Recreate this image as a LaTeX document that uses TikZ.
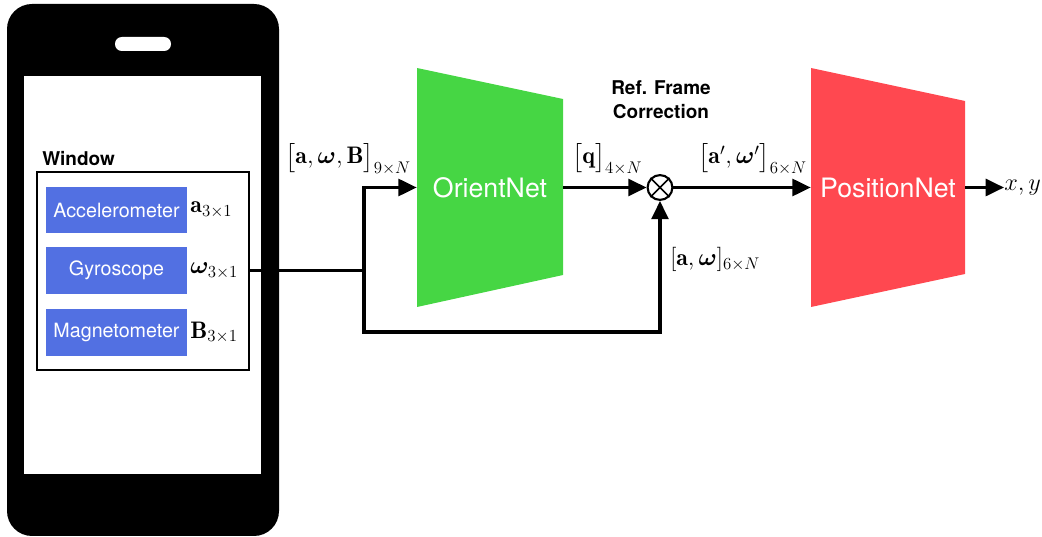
\documentclass[tikz,border=0pt]{standalone}
\usepackage{amsmath}
\usepackage{bm}
\usepackage{fontspec}
\setsansfont{TeX Gyre Heros}
\usetikzlibrary{arrows.meta}
\definecolor{sensorblue}{RGB}{82,112,226}
\definecolor{orientgreen}{RGB}{70,214,68}
\definecolor{positionred}{RGB}{255,72,80}
\tikzset{
  sensor/.style={fill=sensorblue, text=white, font=\sffamily\fontsize{14}{16}\selectfont,
    minimum width=3.525cm, minimum height=1.15cm, inner sep=0},
  dimlabel/.style={font=\fontsize{17}{20}\selectfont, inner sep=0},
  title/.style={font=\sffamily\bfseries\fontsize{13.5}{17}\selectfont, inner sep=0},
  netname/.style={text=white, font=\sffamily\fontsize{19}{22}\selectfont, minimum height=5.975cm, inner sep=0},
  wire/.style={line width=2.2pt},
  flow/.style={wire, -{Triangle[length=13pt,width=12pt]}},
}
\begin{document}
\begin{tikzpicture}[x=0.025cm, y=-0.025cm]
\useasboundingbox (0,0) rectangle (1042,537);
% phone
\fill[black, rounded corners=0.625cm] (7,4) rectangle (279,536);
\fill[white] (24,76) rectangle (261,474);
\fill[white, rounded corners=0.17cm] (115,37) rectangle (171,51);
% window with the sensors
\node[draw, line width=2pt, minimum width=5.3cm, minimum height=4.95cm, inner sep=0] (win) at (143,271) {};
\node[title, anchor=base west] (winlabel) at (42,166) {Window};
\node[sensor] (acc) at (116.5,210) {Accelerometer};
\node[sensor] (gyro) at (116.5,270.5) {Gyroscope};
\node[sensor] (mag) at (116.5,332.5) {Magnetometer};
\node[dimlabel, anchor=west, inner sep=2pt] (acclabel) at (acc.east) {$\mathbf{a}_{3\times1}$};
\node[dimlabel, anchor=west, inner sep=2pt] (gyrolabel) at (gyro.east) {$\bm{\omega}_{3\times1}$};
\node[dimlabel, anchor=west, inner sep=2pt] (maglabel) at (mag.east) {$\mathbf{B}_{3\times1}$};
% networks
\fill[orientgreen] (417,68) -- (563,99) -- (563,275) -- (417,307) -- cycle;
\fill[positionred] (811,68) -- (965,101) -- (965,274) -- (811,307) -- cycle;
\node[netname, minimum width=3.65cm] (orient) at (490,187.5) {OrientNet};
\node[netname, minimum width=3.85cm] (position) at (888,187.5) {PositionNet};
\node[circle, draw, line width=1.5pt, minimum size=0.62cm, inner sep=0] (mult) at (660,187.5) {};
\draw[line width=1.2pt] (mult.north west) -- (mult.south east) (mult.north east) -- (mult.south west);
\node[title, align=center] (refframe) at (661,100) {Ref. Frame\\Correction};
\node[dimlabel, anchor=west] (xy) at (1004,187.5) {$x, y$};
% connectors
\coordinate (split) at (364,270.5);
\coordinate (loop) at (364,332);
\draw[wire] (win.east |- split) -- (split);
\draw[flow] (split) |- (orient.west);
\draw[flow] (split) -- (loop) -| (mult.south);
\draw[flow] (orient.east) -- (mult.west);
\draw[flow] (mult.east) -- (position.west);
\draw[flow] (position.east) -- (xy.west);
% sizes
\node[dimlabel, anchor=base west] (inlabel) at (285,164) {$\big[\mathbf{a}, \bm{\omega}, \mathbf{B}\big]_{9\times N}$};
\node[dimlabel, anchor=base west] (qlabel) at (572,164) {$\big[\mathbf{q}\big]_{4\times N}$};
\node[dimlabel, anchor=base west] (rotlabel) at (698,164) {$\big[\mathbf{a}', \bm{\omega}'\big]_{6\times N}$};
\node[dimlabel, anchor=base west] (rawlabel) at (670,266) {$[\mathbf{a}, \bm{\omega}]_{6\times N}$};
\end{tikzpicture}
\end{document}
